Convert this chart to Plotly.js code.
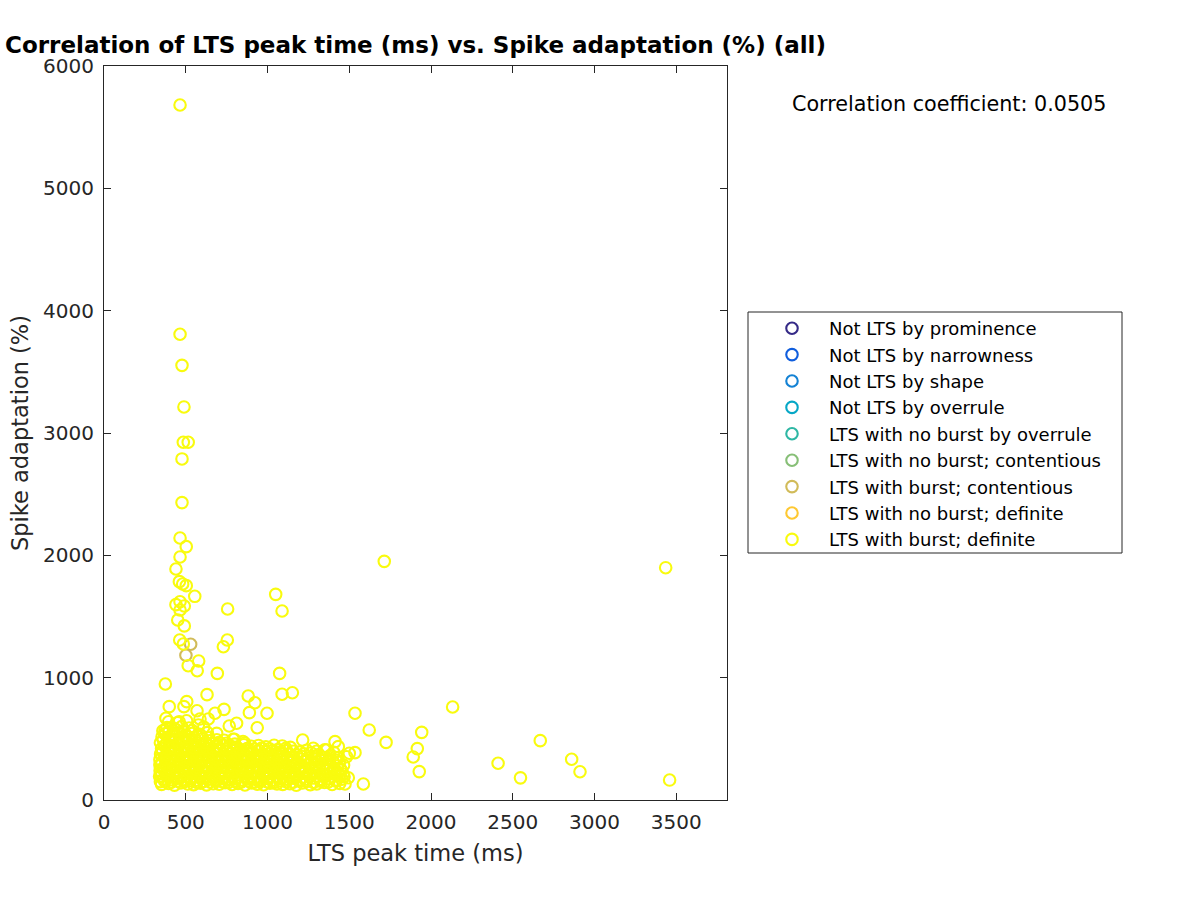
<!DOCTYPE html>
<html>
<head>
<meta charset="utf-8">
<script src="https://cdn.plot.ly/plotly-3.0.1.min.js"></script>
<style>html,body{margin:0;padding:0;background:#fff;}</style>
</head>
<body>
<div id="chart" style="width:1200px;height:900px;"></div>
<script>
// Class names (legend order)
const classNames = [
  "Not LTS by prominence",
  "Not LTS by narrowness",
  "Not LTS by shape",
  "Not LTS by overrule",
  "LTS with no burst by overrule",
  "LTS with no burst; contentious",
  "LTS with burst; contentious",
  "LTS with no burst; definite",
  "LTS with burst; definite"
];
const classColors = [
  "rgb(53,42,135)", "rgb(15,93,221)", "rgb(20,130,212)", "rgb(6,167,198)",
  "rgb(46,183,164)", "rgb(135,191,119)", "rgb(209,187,89)", "rgb(254,200,50)",
  "rgb(249,251,14)"
];

// LTS peak time (ms) / Spike adaptation (%) per class
const promX = [], promY = [];
const narrX = [], narrY = [];
const shapeX = [], shapeY = [];
const overX = [], overY = [];
const noBurstOverX = [], noBurstOverY = [];
const noBurstContX = [], noBurstContY = [];
const burstContX = [530, 501];
const burstContY = [1273, 1183];
const noBurstDefX = [], noBurstDefY = [];

// LTS with burst; definite - isolated points
const burstDefOutX = [465, 465, 477, 489, 485, 515, 477, 477, 465, 503, 465, 440, 461, 481, 503, 555,
  1050, 440, 465, 491, 465, 756, 1089, 451, 491, 463, 485, 754, 730, 515, 579, 570, 693, 1074,
  375, 630, 1089, 1152, 882, 923, 997, 889, 399, 506, 489, 569, 734, 679, 937, 811, 766, 587, 638,
  577, 379, 373, 460, 797, 1215, 1413, 1280, 689, 1535, 2132, 1622, 1725, 1943, 1916, 1891, 1928,
  2410, 2547, 1586, 1433, 1535, 1500, 1468, 1494, 1474, 1362, 1484, 2668, 2860, 2911, 3459, 1714, 3435];
const burstDefOutY = [5681, 3807, 3553, 3213, 2924, 2924, 2788, 2431, 2142, 2071, 1986, 1888, 1785, 1766, 1752, 1665,
  1681, 1597, 1621, 1586, 1553, 1561, 1545, 1471, 1423, 1308, 1275, 1308, 1253, 1098, 1136, 1057, 1035, 1035,
  948, 861, 864, 877, 850, 795, 709, 714, 763, 804, 763, 730, 741, 709, 591, 627, 605, 662, 662,
  613, 668, 572, 640, 496, 490, 477, 423, 545, 709, 760, 572, 471, 553, 420, 352, 232,
  300, 181, 131, 436, 387, 382, 190, 182, 131, 409, 354, 485, 333, 231, 163, 1951, 1899];

// LTS with burst; definite - dense cluster
const burstDefCoreX = [
  345, 352, 395, 431, 470, 512, 548, 590, 627, 668, 705, 741, 783, 820, 862, 901, 938, 976, 1015, 1058, 1093, 1137, 1176, 1214, 1262, 1301, 1348, 1395, 1442,
  340, 365, 408, 447, 488, 526, 566, 604, 646, 685, 722, 760, 801, 843, 880, 919, 958, 997, 1036, 1078, 1117, 1158, 1197, 1238, 1282, 1327, 1370, 1418, 1455,
  343, 350, 388, 425, 462, 503, 541, 582, 619, 660, 699, 737, 776, 815, 853, 893, 931, 970, 1011, 1049, 1090, 1129, 1170, 1211, 1254, 1296, 1341, 1386, 1430, 1462,
  347, 362, 401, 440, 478, 519, 557, 597, 636, 675, 713, 752, 792, 830, 871, 909, 948, 988, 1027, 1066, 1106, 1145, 1188, 1226, 1273, 1318, 1360, 1405, 1446,
  342, 355, 393, 433, 470, 509, 548, 588, 626, 666, 704, 744, 783, 822, 862, 900, 940, 979, 1020, 1060, 1098, 1140, 1181, 1223, 1262, 1308, 1354, 1400, 1440,
  349, 368, 405, 444, 483, 521, 561, 600, 639, 678, 718, 757, 796, 836, 875, 915, 955, 994, 1035, 1075, 1118, 1158, 1205, 1247, 1290, 1336, 1381, 1428,
  358, 396, 436, 474, 513, 552, 592, 631, 670, 709, 748, 789, 828, 867, 907, 946, 989, 1030, 1072, 1113, 1157, 1196, 1240, 1300, 1350, 1405,
  370, 410, 450, 490, 528, 568, 607, 647, 688, 728, 770, 812, 855, 900, 945, 990, 1040, 1090, 1140,
  362, 400, 441, 480, 522, 561, 603, 644, 690, 735, 790, 850,
  372, 415, 455, 498, 540, 585, 632,
  385, 430, 475, 520, 610,
  395, 450, 505,
  372, 412, 450, 491, 530, 569, 608, 648, 686, 723, 762, 802, 841, 881, 919, 957, 996, 1036, 1075, 1115, 1156, 1195, 1238, 1281, 1324, 1372, 1418,
  348, 386, 428, 467, 507, 546, 585, 625, 665, 703, 741, 781, 822, 861, 899, 939, 977, 1017, 1057, 1097, 1138, 1177, 1218, 1260, 1305, 1348, 1394, 1440,
  370, 408, 446, 486, 526, 564, 604, 642, 681, 719, 758, 798, 838, 877, 916, 955, 994, 1033, 1074, 1112, 1152, 1193, 1235, 1278, 1320, 1365, 1410, 1452,
  342, 381, 420, 459, 498, 538, 577, 616, 656, 694, 733, 772, 811, 851, 890, 929, 968, 1008, 1047, 1086, 1126, 1166, 1207, 1250, 1295, 1340, 1383, 1425, 1465,
  374, 413, 452, 490, 529, 568, 607, 646, 686, 724, 763, 803, 842, 881, 921, 960, 1000, 1040, 1080, 1121, 1161, 1202, 1243, 1285, 1330, 1375, 1420,
  346, 386, 425, 463, 502, 541, 580, 619, 659, 698, 737, 776, 816, 855, 895, 935, 975, 1015, 1055, 1096, 1137, 1180, 1225, 1268, 1315,
  352, 390, 430, 469, 508, 548, 588, 627, 667, 707, 748, 790, 832, 875, 920, 965, 1012, 1062, 1112,
  345, 382, 420, 460, 500, 541, 580, 620, 662, 705, 750, 800, 860,
  355, 392, 432, 472, 512, 553, 596, 642,
  360, 398, 445, 490, 540
];
const burstDefCoreY = [
  150, 128, 135, 122, 140, 131, 126, 138, 124, 133, 129, 141, 127, 136, 123, 139, 130, 125, 137, 132, 128, 134, 121, 139, 126, 131, 143, 127, 136,
  195, 172, 165, 178, 168, 175, 162, 180, 170, 166, 177, 169, 174, 163, 179, 171, 167, 176, 164, 173, 170, 178, 166, 172, 181, 169, 175, 163, 171,
  240, 218, 210, 224, 207, 215, 221, 212, 226, 209, 217, 213, 228, 206, 219, 214, 223, 208, 216, 225, 211, 220, 207, 218, 213, 222, 209, 217, 226, 212,
  285, 262, 255, 270, 258, 266, 252, 271, 260, 256, 268, 262, 254, 273, 259, 265, 251, 269, 261, 257, 270, 263, 255, 267, 260, 272, 258, 264, 253,
  330, 308, 300, 314, 297, 306, 318, 302, 311, 296, 309, 315, 303, 298, 312, 305, 317, 301, 310, 299, 313, 307, 296, 316, 304, 311, 300, 318, 306,
  375, 352, 346, 360, 343, 355, 348, 362, 350, 344, 357, 351, 363, 347, 356, 342, 359, 349, 354, 361, 345, 353, 358, 343, 357, 350, 362, 347,
  398, 391, 405, 388, 401, 394, 408, 396, 390, 403, 397, 409, 392, 400, 386, 406, 395, 402, 389, 404, 398, 393, 407, 399, 411, 390,
  442, 436, 451, 438, 446, 433, 455, 441, 437, 449, 444, 432, 452, 439, 446, 435, 447, 441, 430,
  492, 485, 498, 481, 495, 488, 501, 484, 493, 489, 497, 478,
  541, 535, 548, 530, 545, 538, 551,
  592, 585, 600, 588, 596,
  640, 632, 648,
  151, 146, 155, 149, 158, 144, 152, 147, 156, 150, 143, 154, 148, 157, 145, 153, 149, 141, 155, 150, 146, 157, 152, 144, 153, 148, 156,
  192, 197, 189, 201, 194, 186, 199, 191, 196, 203, 188, 195, 190, 198, 193, 185, 200, 192, 196, 189, 202, 194, 187, 199, 191, 196, 188, 201,
  238, 244, 233, 241, 236, 247, 239, 232, 245, 237, 242, 234, 248, 240, 235, 243, 238, 246, 231, 241, 236, 244, 239, 233, 247, 240, 236, 243,
  287, 281, 292, 284, 278, 290, 286, 279, 293, 283, 288, 281, 291, 285, 277, 289, 284, 292, 280, 287, 283, 290, 278, 286, 293, 282, 288, 280, 285,
  331, 326, 336, 323, 333, 328, 338, 325, 332, 327, 335, 322, 330, 337, 326, 333, 324, 331, 336, 328, 322, 334, 329, 337, 325, 332, 327,
  377, 371, 381, 368, 376, 383, 372, 379, 369, 378, 374, 384, 370, 377, 380, 367, 375, 382, 371, 379, 373, 368, 378, 384, 372,
  421, 416, 425, 412, 420, 427, 417, 423, 414, 422, 418, 426, 413, 421, 416, 424, 419, 412, 422,
  468, 461, 472, 458, 466, 473, 463, 469, 460, 471, 464, 457, 466,
  516, 510, 521, 507, 518, 512, 522, 509,
  566, 560, 571, 557, 568
];

const burstDefX = burstDefOutX.concat(burstDefCoreX);
const burstDefY = burstDefOutY.concat(burstDefCoreY);

const xTickVals = [0, 500, 1000, 1500, 2000, 2500, 3000, 3500];
const yTickVals = [0, 1000, 2000, 3000, 4000, 5000, 6000];
const corrText = "Correlation coefficient: 0.0505";

const seriesX = [promX, narrX, shapeX, overX, noBurstOverX, noBurstContX, burstContX, noBurstDefX, burstDefX];
const seriesY = [promY, narrY, shapeY, overY, noBurstOverY, noBurstContY, burstContY, noBurstDefY, burstDefY];

const traces = classNames.map((name, i) => ({
  type: "scatter",
  mode: "markers",
  name: name,
  // classes with no points keep a legend entry through a single empty (null) value
  x: seriesX[i].length ? seriesX[i] : [null],
  y: seriesY[i].length ? seriesY[i] : [null],
  legendgroup: "g" + i,
  marker: {symbol: "circle-open", size: 11.5, color: classColors[i], line: {width: 2.1, color: classColors[i]}},
  hoverinfo: "x+y"
}));

const L = 104, R = 727, T = 66, B = 800;
const px = v => (v - L) / (R - L);
const py = v => (B - v) / (B - T);

const axisCommon = {
  showgrid: false, zeroline: false, showline: true, mirror: "ticks",
  linecolor: "#262626", linewidth: 1, ticks: "inside", ticklen: 7, tickwidth: 1,
  tickcolor: "#262626", tickfont: {family: "DejaVu Sans", size: 20, color: "#262626"}
};

const layout = {
  width: 1200, height: 900,
  paper_bgcolor: "#fff", plot_bgcolor: "#fff",
  font: {family: "DejaVu Sans", color: "#262626"},
  margin: {l: L, r: 1200 - R, t: T, b: 900 - B, pad: 0},
  title: {
    text: "<b>Correlation of LTS peak time (ms) vs. Spike adaptation (%) (all)</b>",
    font: {family: "DejaVu Sans", size: 23, color: "#000"},
    xref: "paper", x: 0.5, xanchor: "center",
    yref: "container", y: 1 - 45 / 900, yanchor: "middle"
  },
  xaxis: Object.assign({}, axisCommon, {
    range: [0, 3810], tickvals: xTickVals, ticktext: xTickVals.map(String),
    ticklabelstandoff: 4,
    title: {text: "LTS peak time (ms)", font: {family: "DejaVu Sans", size: 22.5, color: "#262626"}, standoff: 12}
  }),
  yaxis: Object.assign({}, axisCommon, {
    range: [0, 6000], tickvals: yTickVals, ticktext: yTickVals.map(String),
    ticklabelstandoff: 5,
    title: {text: "Spike adaptation (%)", font: {family: "DejaVu Sans", size: 22.5, color: "#262626"}, standoff: 8}
  }),
  showlegend: true,
  legend: {
    x: px(755), xanchor: "left", y: py(310), yanchor: "top",
    bgcolor: "rgba(0,0,0,0)", borderwidth: 0,
    font: {family: "DejaVu Sans", size: 18, color: "#000"},
    traceorder: "normal", itemwidth: 64, tracegroupgap: 0, itemclick: false
  },
  shapes: [{
    type: "rect", xref: "paper", yref: "paper",
    x0: px(748), x1: px(1122), y0: py(553), y1: py(312),
    line: {color: "#262626", width: 1}, fillcolor: "#fff", layer: "below"
  }],
  annotations: [{
    text: corrText, xref: "paper", yref: "paper",
    x: px(948.5), y: py(104), xanchor: "center", yanchor: "middle",
    showarrow: false, font: {family: "DejaVu Sans", size: 20.7, color: "#000"}
  }]
};

Plotly.newPlot("chart", traces, layout, {displayModeBar: false, staticPlot: true});
</script>
</body>
</html>
